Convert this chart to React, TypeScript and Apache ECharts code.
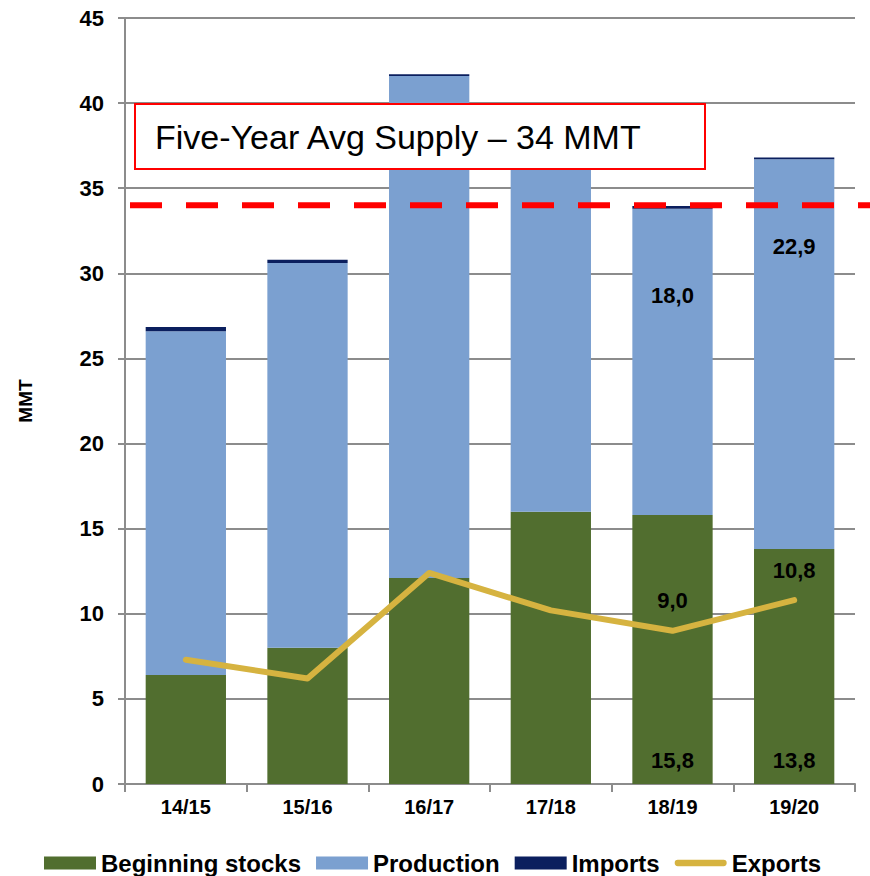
import React, { useEffect, useRef } from "react";
import * as echarts from "echarts";

const categories = ["14/15", "15/16", "16/17", "17/18", "18/19", "19/20"];
const beginningStocks = [6.4, 8.0, 12.1, 16.0, 15.8, 13.8];
const production = [20.2, 22.6, 29.5, 20.4, 18.0, 22.9];
const imports = [0.25, 0.2, 0.1, 0.2, 0.15, 0.1];
const exportsData = [7.3, 6.2, 12.4, 10.2, 9.0, 10.8];
const avgSupply = 34;
const labeledIdx = [4, 5];
const yTicks = { min: 0, max: 45, interval: 5 };

const fmt = (v: number) => v.toFixed(1).replace(".", ",");
const sans = "'Liberation Sans', Arial, sans-serif";
const lineIcon =
  "path://M0,0M0,13M3.5,3H54.5A3.5,3.5,0,0,1,54.5,10H3.5A3.5,3.5,0,0,1,3.5,3Z";

export default function App() {
  const ref = useRef<HTMLDivElement>(null);
  useEffect(() => {
    document.body.style.margin = "0";
    const chart = echarts.init(ref.current!, null, { renderer: "svg" });
    const labelStyle = {
      fontFamily: sans,
      fontWeight: "bold" as const,
      fontSize: 22,
      color: "#000",
    };
    chart.setOption({
      animation: false,
      grid: { left: 125, right: 15, top: 18, bottom: 92, containLabel: false },
      legend: {
        bottom: -4,
        left: 44,
        padding: [5, 0],
        itemWidth: 52,
        itemHeight: 13,
        itemGap: 15,
        textStyle: { fontFamily: sans, fontWeight: "bold", fontSize: 24, color: "#000", padding: [0, 0, 0, 0] },
        data: [
          { name: "Beginning stocks", icon: "rect" },
          { name: "Production", icon: "rect" },
          { name: "Imports", icon: "rect" },
          { name: "Exports", icon: lineIcon },
        ],
      },
      xAxis: {
        type: "category",
        data: categories,
        axisLine: { lineStyle: { color: "#8c8c8c", width: 2 } },
        axisTick: { show: true, length: 8, lineStyle: { color: "#8c8c8c", width: 2 } },
        axisLabel: { fontFamily: sans, fontWeight: "bold", fontSize: 20, color: "#000", margin: 13 },
      },
      yAxis: {
        type: "value",
        min: yTicks.min,
        max: yTicks.max,
        interval: yTicks.interval,
        name: "MMT",
        nameLocation: "middle",
        nameGap: 90,
        nameRotate: 90,
        nameTextStyle: { fontFamily: sans, fontWeight: "bold", fontSize: 19, color: "#000" },
        axisLine: { show: true, lineStyle: { color: "#8c8c8c", width: 2 } },
        axisTick: { show: true, length: 7, lineStyle: { color: "#8c8c8c", width: 2 } },
        axisLabel: { fontFamily: sans, fontWeight: "bold", fontSize: 22, color: "#000", margin: 21 },
        splitLine: { show: true, lineStyle: { color: "#8c8c8c", width: 2 } },
      },
      series: [
        {
          name: "Beginning stocks",
          type: "bar",
          stack: "supply",
          barWidth: "66%",
          itemStyle: { color: "#516E2F" },
          data: beginningStocks.map((v, i) => ({
            value: v,
            label: { show: labeledIdx.includes(i) },
          })),
          label: {
            position: "insideBottom",
            distance: 13,
            formatter: (p: any) => fmt(p.value),
            ...labelStyle,
          },
        },
        {
          name: "Production",
          type: "bar",
          stack: "supply",
          itemStyle: { color: "#7BA0D0" },
          data: production.map((v, i) => ({
            value: v,
            label: { show: labeledIdx.includes(i) },
          })),
          label: {
            position: "insideTop",
            distance: 76,
            formatter: (p: any) => fmt(p.value),
            ...labelStyle,
          },
        },
        {
          name: "Imports",
          type: "bar",
          stack: "supply",
          itemStyle: { color: "#0B1F5E" },
          data: imports,
        },
        {
          name: "Exports",
          type: "line",
          symbol: "circle",
          symbolSize: 2,
          showSymbol: true,
          lineStyle: { color: "#D6B340", width: 6, cap: "round", join: "round" },
          itemStyle: { color: "#D6B340" },
          z: 5,
          data: exportsData.map((v, i) => ({
            value: v,
            label: { show: labeledIdx.includes(i) },
          })),
          label: {
            show: false,
            position: "top",
            distance: 18,
            formatter: (p: any) => fmt(p.value),
            ...labelStyle,
          },
        },
      ],
    });
    const yAvg = chart.convertToPixel({ yAxisIndex: 0 }, avgSupply) as number;
    chart.setOption({
      graphic: [
        {
          id: "avgLine",
          type: "line",
          z: 90,
          shape: { x1: 130, y1: yAvg, x2: 870, y2: yAvg },
          style: { stroke: "#FF0000", lineWidth: 6, lineDash: [32, 24] },
        },
        {
          id: "boxRect",
          type: "rect",
          z: 100,
          shape: { x: 135, y: 104, width: 570, height: 65 },
          style: { fill: "#fff", stroke: "#FF0000", lineWidth: 2 },
        },
        {
          id: "boxText",
          type: "text",
          z: 101,
          x: 155,
          y: 137,
          style: {
            text: "Five-Year Avg Supply – 34 MMT",
            fontFamily: sans,
            fontSize: 34,
            fill: "#000",
            verticalAlign: "middle",
          },
        },
      ],
    });
    return () => chart.dispose();
  }, []);
  return <div ref={ref} style={{ width: 870, height: 876 }} />;
}
